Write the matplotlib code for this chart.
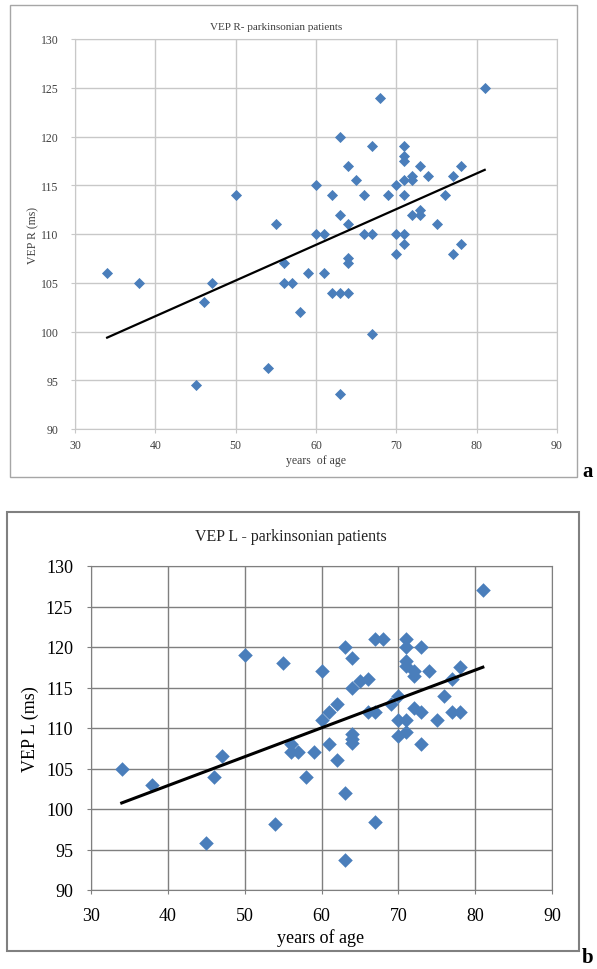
import numpy as np
import matplotlib
matplotlib.use('Agg')
import matplotlib.pyplot as plt
from matplotlib.patches import Rectangle

plt.rcParams['font.family'] = ['Liberation Serif', 'DejaVu Serif']

# Datos panel a (VEP ojo derecho)
edad_r = [34, 38, 45, 46, 47, 50, 54, 55, 56, 56, 57, 58, 59, 60, 60, 61, 61, 62, 62,
          63, 63, 63, 63, 64, 64, 64, 64, 64, 65, 66, 66, 67, 67, 67, 68, 69, 70, 70, 70,
          71, 71, 71, 71, 71, 71, 71, 72, 72, 72, 73, 73, 73, 74, 75, 76, 77, 77, 78, 78, 81]
vep_r = [106, 105, 94.5, 103, 105, 114, 96.3, 111, 107, 105, 105, 102, 106, 115, 110, 110, 106, 114, 104,
         120, 112, 104, 93.6, 117, 111, 107.5, 107, 104, 115.5, 114, 110, 119, 110, 99.7, 124, 114, 115, 110, 108,
         119, 118, 117.5, 115.5, 114, 110, 109, 116, 115.5, 112, 117, 112.5, 112, 116, 111, 114, 116, 108, 117, 109, 125]

# Datos panel b (VEP ojo izquierdo)
edad_l = [34, 38, 45, 46, 47, 50, 54, 55, 56, 56, 57, 58, 59, 60, 60, 61, 61, 62, 62,
          63, 63, 63, 64, 64, 64, 64, 64, 65, 66, 66, 67, 67, 67, 68, 69, 70, 70, 70,
          71, 71, 71, 71, 71, 71, 72, 72, 72, 73, 73, 73, 74, 75, 76, 77, 77, 78, 78, 81]
vep_l = [105, 103, 95.8, 104, 106.6, 119, 98.2, 118, 108, 107, 107, 104, 107, 117, 111, 112, 108, 113, 106,
         120, 102, 93.7, 118.6, 115, 109.2, 108.7, 108.1, 115.8, 116, 112, 121, 112, 98.4, 121, 113, 114, 111, 109,
         121, 120, 118.3, 117.7, 111, 109.5, 117, 116.4, 112.5, 120, 112, 108, 117, 111, 114, 116, 112, 117.5, 112, 127]

x_ticks = [30, 40, 50, 60, 70, 80, 90]
y_ticks = [90, 95, 100, 105, 110, 115, 120, 125, 130]

W, H = 597, 970
fig = plt.figure(figsize=(W / 100, H / 100), dpi=100)


def caja(x0, y0, x1, y1):
    # convierte pixeles (origen arriba-izquierda) a fracciones de figura
    return [x0 / W, 1 - y1 / H, (x1 - x0) / W, (y1 - y0) / H]


def graficar_panel(ax, edades, valores, color_grid, color_txt, tam_tick, ms, lw, pad_x, pad_y):
    ax.scatter(edades, valores, marker='D', s=ms, color='#4A7EBB', zorder=3, linewidths=0)
    # linea de tendencia lineal
    pendiente, intercepto = np.polyfit(edades, valores, 1)
    xs = np.array([min(edades), max(edades)])
    ax.plot(xs, intercepto + pendiente * xs, color='black', lw=lw, zorder=4)
    ax.set_xlim(30, 90)
    ax.set_ylim(90, 130)
    ax.set_xticks(x_ticks)
    ax.set_yticks(y_ticks)
    ax.grid(True, color=color_grid, lw=1)
    for lado in ax.spines.values():
        lado.set_color(color_grid)
    ax.tick_params(colors=color_grid, labelcolor=color_txt, labelsize=tam_tick, length=3)
    ax.tick_params(axis='x', pad=pad_x)
    ax.tick_params(axis='y', pad=pad_y)
    ax.set_axisbelow(True)


# Panel a
fig.add_artist(Rectangle((10 / W, 1 - 478 / H), 567 / W, 472 / H, transform=fig.transFigure,
                         fill=False, edgecolor='#A6A6A6', lw=1))
ax1 = fig.add_axes(caja(75, 40, 557, 430))
graficar_panel(ax1, edad_r, vep_r, '#C8C8C8', '#404040', 8.5, 32, 1.6, 4, 9)
fig.text(276 / W, 1 - 27 / H, 'VEP R- parkinsonian patients', ha='center', va='center',
         fontsize=8, color='#404040')
fig.text(316 / W, 1 - 461 / H, 'years  of age', ha='center', va='center', fontsize=8.5, color='#404040')
fig.text(33 / W, 1 - 235 / H, 'VEP R (ms)', ha='center', va='center', rotation=90,
         fontsize=8.5, color='#404040')
fig.text(588 / W, 1 - 472 / H, 'a', ha='center', va='center', fontsize=15, fontweight='bold')

# Panel b
fig.add_artist(Rectangle((7 / W, 1 - 952 / H), 572 / W, 439 / H, transform=fig.transFigure,
                         fill=False, edgecolor='#808080', lw=1.5))
ax2 = fig.add_axes(caja(91, 567, 552, 891))
graficar_panel(ax2, edad_l, vep_l, '#7F7F7F', 'black', 13, 55, 2.2, 9, 10)
fig.text(291 / W, 1 - 537 / H, 'VEP L - parkinsonian patients', ha='center', va='center',
         fontsize=11.5, color='#222222')
fig.text(321 / W, 1 - 938 / H, 'years of age', ha='center', va='center', fontsize=13)
fig.text(30 / W, 1 - 729 / H, 'VEP L (ms)', ha='center', va='center', rotation=90, fontsize=13)
fig.text(588 / W, 1 - 958 / H, 'b', ha='center', va='center', fontsize=15, fontweight='bold')

fig.savefig('out.png', dpi=100)
